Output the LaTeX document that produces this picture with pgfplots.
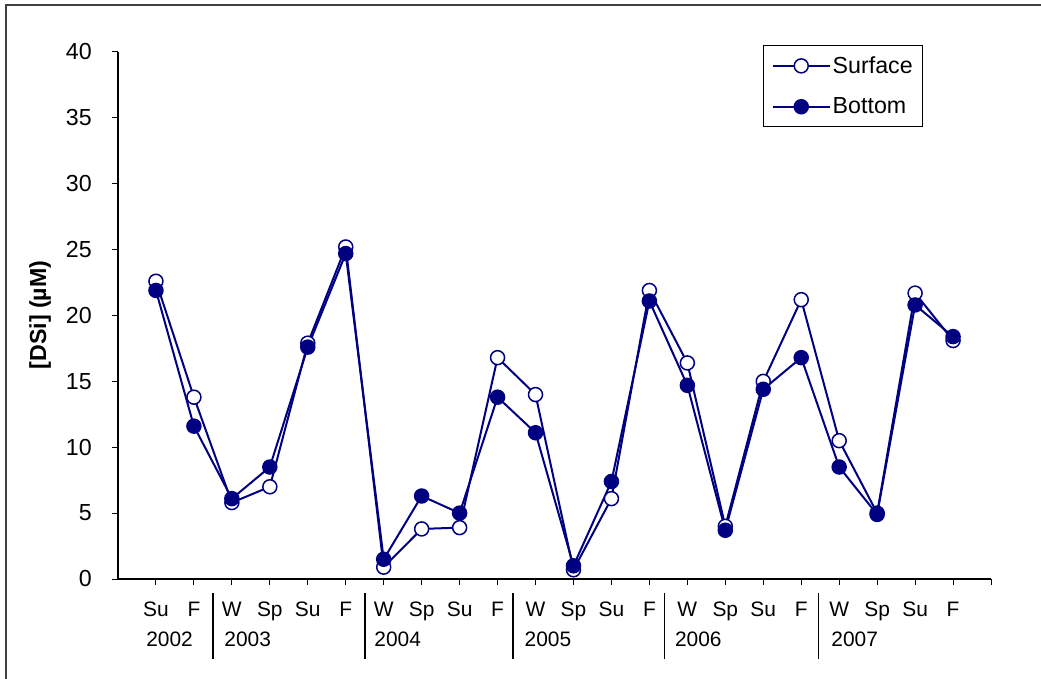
\documentclass[border=0pt]{standalone}
\usepackage{fontspec}
\setmainfont{Liberation Sans}
\usepackage{pgfplots}
\pgfplotsset{compat=1.18}
\definecolor{navy}{HTML}{000080}
\newcommand{\chartfont}{\fontsize{21}{24}\selectfont}
\newcommand{\bigfont}{\fontsize{23.3}{27}\selectfont}

\begin{document}
\begin{tikzpicture}
\useasboundingbox (0,0) rectangle (1041bp,679bp);
% outer chart frame
\draw[line width=1.3bp, black!75] (6bp,0) -- (6bp,674bp) -- (1041bp,674bp);
\begin{axis}[
  at={(118bp,100bp)}, anchor=south west,
  scale only axis, width=873bp, height=527bp,
  xmin=0, xmax=23, ymin=0, ymax=40,
  axis x line*=bottom, axis y line*=left,
  axis line style={line width=1.2bp, -},
  tick align=outside, major tick length=6bp,
  tick style={line width=1bp, black},
  xtick={1,...,23},
  xticklabels={Su,F,W,Sp,Su,F,W,Sp,Su,F,W,Sp,Su,F,W,Sp,Su,F,W,Sp,Su,F,{}},
  ytick={0,5,...,40},
  /pgf/number format/assume math mode=true,
  xticklabel style={font=\chartfont, anchor=base, yshift=-31bp},
  yticklabel style={font=\bigfont, anchor=east, inner sep=0pt, xshift=-20bp},
  ylabel={[DSi] (µM)},
  ylabel style={at={(axis description cs:-0.0893,0.501)}, anchor=center, font=\bfseries\bigfont},
  legend style={at={(axis description cs:0.739,1.013)}, anchor=north west,
    draw=black, line width=1.2bp, font=\bigfont, inner xsep=8bp, inner ysep=9bp,
    row sep=19bp},
  legend cell align=left,
  legend image code/.code={\draw[mark repeat=2,mark phase=2,#1]
    plot coordinates {(0bp,0bp) (28.5bp,0bp) (57bp,0bp)};},
  clip=false,
]
\addplot[navy, line width=2bp, mark=*, mark size=7bp,
  mark options={fill=white, draw=navy, line width=1.5bp}]
  coordinates {
  (1,22.6) (2,13.8) (3,5.8) (4,7.0) (5,17.9) (6,25.2)
  (7,0.9) (8,3.8) (9,3.9) (10,16.8) (11,14.0) (12,0.7)
  (13,6.1) (14,21.9) (15,16.4) (16,4.0) (17,15.0) (18,21.2)
  (19,10.5) (20,5.0) (21,21.7) (22,18.1)};
\addlegendentry{Surface}
\addplot[navy, line width=2bp, mark=*, mark size=7bp,
  mark options={fill=navy, draw=navy, line width=1.5bp}]
  coordinates {
  (1,21.9) (2,11.6) (3,6.1) (4,8.5) (5,17.6) (6,24.7)
  (7,1.5) (8,6.3) (9,5.0) (10,13.8) (11,11.1) (12,1.0)
  (13,7.4) (14,21.1) (15,14.7) (16,3.7) (17,14.4) (18,16.8)
  (19,8.5) (20,4.9) (21,20.8) (22,18.4)};
\addlegendentry{Bottom}
% year separators below the axis
\pgfplotsinvokeforeach{2.5,6.5,10.4,14.4,18.45}{
  \draw[line width=1.6bp, black] (axis cs:#1,0) ++(0,-14bp) -- ++(0,-66bp);
}
% year labels
\node[anchor=base west, inner sep=0pt, font=\chartfont, yshift=-67.5bp] at (axis cs:0.74,0) {2002};
\node[anchor=base west, inner sep=0pt, font=\chartfont, yshift=-67.5bp] at (axis cs:2.8,0) {2003};
\node[anchor=base west, inner sep=0pt, font=\chartfont, yshift=-67.5bp] at (axis cs:6.75,0) {2004};
\node[anchor=base west, inner sep=0pt, font=\chartfont, yshift=-67.5bp] at (axis cs:10.71,0) {2005};
\node[anchor=base west, inner sep=0pt, font=\chartfont, yshift=-67.5bp] at (axis cs:14.67,0) {2006};
\node[anchor=base west, inner sep=0pt, font=\chartfont, yshift=-67.5bp] at (axis cs:18.79,0) {2007};
\end{axis}
\end{tikzpicture}
\end{document}
